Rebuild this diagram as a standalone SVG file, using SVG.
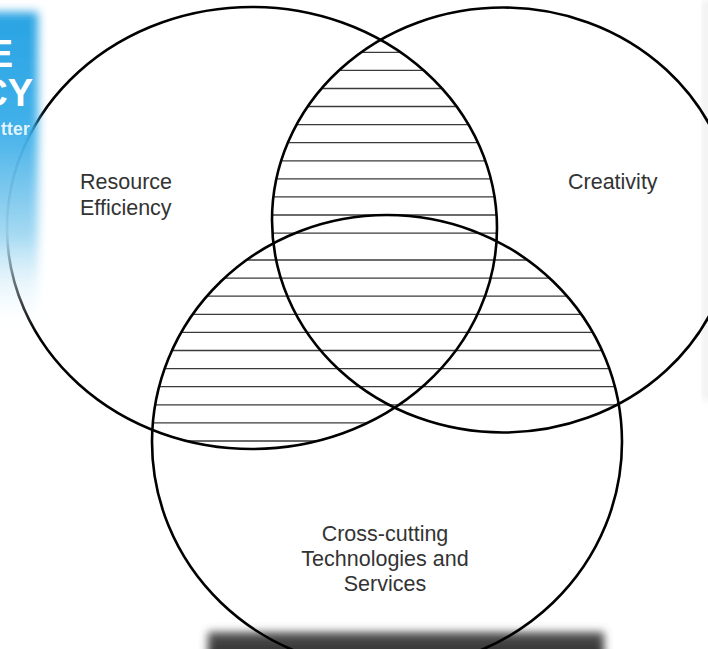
<svg xmlns="http://www.w3.org/2000/svg" width="708" height="649" viewBox="0 0 708 649">
<style>
.ring{fill:none;stroke:#000;stroke-width:2.6}
.hatch line{stroke:#3a3a3a;stroke-width:1.3}
.lbl{font-family:"Liberation Sans",Arial,Helvetica,sans-serif;font-size:21.5px;fill:#333}
.lbl2{font-family:"Liberation Sans",Arial,Helvetica,sans-serif;font-size:21.5px;fill:#333}
.logo{font-family:"Liberation Sans",Arial,Helvetica,sans-serif;font-weight:bold;fill:#fff}
</style>
<defs>
<clipPath id="clipA"><ellipse cx="252" cy="228" rx="245" ry="221"/></clipPath>
<clipPath id="clipB"><ellipse cx="503" cy="220" rx="231" ry="212.5"/></clipPath>
<clipPath id="clipC"><ellipse cx="387" cy="442" rx="235" ry="227"/></clipPath>
<clipPath id="clipAB"><ellipse cx="252" cy="228" rx="245" ry="221"/><ellipse cx="503" cy="220" rx="231" ry="212.5"/></clipPath>
<linearGradient id="blueV" x1="0" y1="0" x2="0" y2="1">
<stop offset="0" stop-color="#1f9fe2"/>
<stop offset="0.35" stop-color="#36ace8"/>
<stop offset="0.7" stop-color="#a2d8f2"/>
<stop offset="1" stop-color="#ffffff" stop-opacity="0"/>
</linearGradient>
<linearGradient id="barV" x1="0" y1="0" x2="0" y2="1">
<stop offset="0" stop-color="#555"/>
<stop offset="1" stop-color="#222"/>
</linearGradient>
<filter id="soft" x="-50%" y="-20%" width="200%" height="140%"><feGaussianBlur stdDeviation="5"/></filter>
<filter id="soft2" x="-20%" y="-100%" width="140%" height="300%"><feGaussianBlur stdDeviation="4"/></filter>
</defs>
<rect x="0" y="0" width="708" height="649" fill="#fff"/>
<rect x="208" y="632" width="396" height="30" fill="url(#barV)" filter="url(#soft2)"/>
<rect x="703" y="0" width="8" height="400" fill="#ececec" filter="url(#soft2)"/>
<g id="hatching" class="hatch">
<g clip-path="url(#clipA)"><g clip-path="url(#clipB)">
<line x1="250" y1="52.3" x2="520" y2="52.3"/>
<line x1="250" y1="70.4" x2="520" y2="70.4"/>
<line x1="250" y1="88.5" x2="520" y2="88.5"/>
<line x1="250" y1="106.5" x2="520" y2="106.5"/>
<line x1="250" y1="124.6" x2="520" y2="124.6"/>
<line x1="250" y1="142.7" x2="520" y2="142.7"/>
<line x1="250" y1="160.8" x2="520" y2="160.8"/>
<line x1="250" y1="178.9" x2="520" y2="178.9"/>
<line x1="250" y1="196.9" x2="520" y2="196.9"/>
<line x1="250" y1="215" x2="520" y2="215"/>
<line x1="250" y1="233.1" x2="520" y2="233.1"/>
</g></g>
<g clip-path="url(#clipC)"><g clip-path="url(#clipAB)">
<line x1="140" y1="260" x2="640" y2="260"/>
<line x1="140" y1="278.1" x2="640" y2="278.1"/>
<line x1="140" y1="296.2" x2="640" y2="296.2"/>
<line x1="140" y1="314.3" x2="640" y2="314.3"/>
<line x1="140" y1="332.4" x2="640" y2="332.4"/>
<line x1="140" y1="350.5" x2="640" y2="350.5"/>
<line x1="140" y1="368.6" x2="640" y2="368.6"/>
<line x1="140" y1="386.7" x2="640" y2="386.7"/>
<line x1="140" y1="404.8" x2="640" y2="404.8"/>
</g></g>
<g clip-path="url(#clipC)"><g clip-path="url(#clipA)">
<line x1="140" y1="422.9" x2="640" y2="422.9"/>
<line x1="140" y1="441" x2="640" y2="441"/>
</g></g>
</g>
<g id="resource-efficiency">
<ellipse class="ring" cx="252" cy="228" rx="245" ry="221"/>
<text class="lbl" x="80" y="189">Resource</text>
<text class="lbl" x="80" y="215">Efficiency</text>
</g>
<g id="creativity">
<ellipse class="ring" cx="503" cy="220" rx="231" ry="212.5"/>
<text class="lbl" x="568" y="189">Creativity</text>
</g>
<g id="cross-cutting">
<ellipse class="ring" cx="387" cy="442" rx="235" ry="227"/>
<text class="lbl2" x="385" y="541" text-anchor="middle">Cross-cutting</text>
<text class="lbl2" x="385" y="566" text-anchor="middle">Technologies and</text>
<text class="lbl2" x="385" y="591" text-anchor="middle">Services</text>
</g>
<rect x="-20" y="12" width="58" height="320" fill="url(#blueV)" filter="url(#soft)" opacity="0.95"/>
<text class="logo" x="13" y="67" font-size="38" text-anchor="end">E</text>
<text class="logo" x="33" y="106" font-size="38" text-anchor="end">CY</text>
<text class="logo" x="1" y="135" font-size="18" font-weight="normal" opacity="0.85">tter</text>
</svg>
